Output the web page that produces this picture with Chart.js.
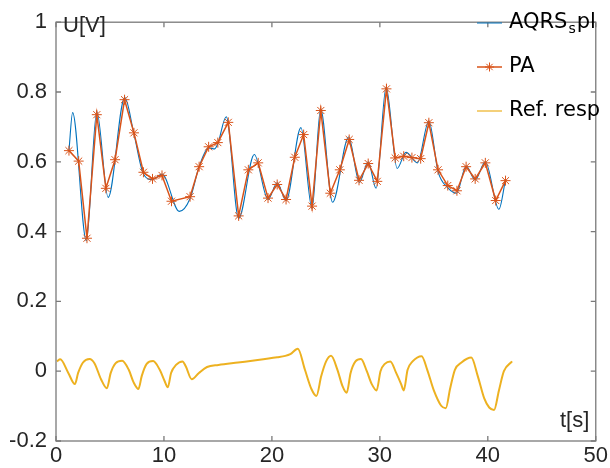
<!DOCTYPE html>
<html><head><meta charset="utf-8">
<script src="https://cdn.jsdelivr.net/npm/chart.js@4.4.1/dist/chart.umd.min.js"></script>
<style>html,body{margin:0;padding:0;background:#fff;overflow:hidden}</style>
</head><body>
<canvas id="c" width="610" height="468" style="display:block;width:610px;height:468px"></canvas>
<script>
// ---- data ----
const paTimes  = [1.2,2.1,2.87,3.78,4.62,5.47,6.35,7.22,8.1,8.94,9.82,10.7,12.42,13.26,14.14,14.99,15.96,16.92,17.82,18.73,19.64,20.49,21.31,22.12,22.94,23.72,24.53,25.41,26.29,27.16,28.07,28.92,29.76,30.61,31.42,32.21,32.97,33.78,34.54,35.39,36.29,37.14,37.99,38.83,39.77,40.73,41.64];
const paValues = [0.632,0.602,0.381,0.735,0.524,0.606,0.778,0.683,0.570,0.551,0.561,0.487,0.500,0.586,0.643,0.655,0.713,0.445,0.577,0.597,0.496,0.535,0.492,0.613,0.678,0.473,0.747,0.510,0.577,0.664,0.547,0.595,0.544,0.809,0.611,0.616,0.612,0.609,0.712,0.577,0.532,0.517,0.586,0.551,0.597,0.489,0.546];

const splTimes  = [1.2,1.54,2.81,3.78,4.83,6.37,7.22,8.1,8.94,9.82,11.42,12.42,13.26,14.14,14.7,14.99,15.77,16.92,18.37,19.64,20.49,21.31,22.69,23.72,24.51,25.62,27.11,28.1,28.92,29.65,30.58,31.6,32.42,33.48,34.54,35.39,36.29,37.1,37.99,38.83,39.77,41.03,41.64];
const splValues = [0.632,0.741,0.374,0.744,0.498,0.784,0.680,0.565,0.549,0.565,0.458,0.495,0.586,0.640,0.637,0.652,0.729,0.438,0.621,0.492,0.540,0.489,0.698,0.466,0.752,0.484,0.671,0.541,0.600,0.524,0.814,0.581,0.627,0.597,0.717,0.572,0.526,0.510,0.588,0.548,0.600,0.464,0.549];

const respTimes  = [0.09,0.39,1.14,1.75,2.05,2.5,3.11,3.56,4.17,4.71,5.07,5.53,6.13,6.74,7.19,7.64,7.94,8.4,9.0,9.61,10.06,10.36,10.66,11.12,11.72,12.02,12.57,13.24,13.99,15.05,16.86,18.68,20.49,21.24,21.7,22.4,23.06,23.66,24.12,24.57,25.02,25.48,26.07,26.53,26.93,27.29,27.74,28.25,28.79,29.25,29.7,30.06,30.46,30.97,31.51,31.97,32.21,32.57,33.03,33.87,34.39,35.0,35.68,36.11,36.5,36.95,37.56,38.47,39.07,39.67,40.13,40.58,41.03,41.49,42.25];
const respValues = [0.028,0.034,-0.005,-0.037,-0.005,0.025,0.035,0.023,-0.023,-0.049,-0.005,0.023,0.030,0.004,-0.032,-0.051,-0.014,0.021,0.029,0.004,-0.028,-0.046,-0.005,0.018,0.028,0.014,-0.023,-0.005,0.012,0.018,0.025,0.032,0.040,0.044,0.049,0.064,0.004,-0.051,-0.071,-0.014,0.028,0.044,0.004,-0.042,-0.062,-0.005,0.028,0.035,0.000,-0.037,-0.055,0.000,0.021,0.028,-0.005,-0.037,-0.055,0.004,0.028,0.043,0.004,-0.055,-0.099,-0.106,-0.051,0.004,0.025,0.039,-0.014,-0.078,-0.104,-0.111,-0.055,0.000,0.028];

const xTickValues = [0,10,20,30,40,50];
const yTickValues = [-0.2,0,0.2,0.4,0.6,0.8,1];
const seriesNames = ['AQRS','PA','Ref. resp'];
const xAxisLabel = 't[s]';
const yAxisLabel = 'U[V]';

// ---- styling ----
const C_BLUE = '#0072BD', C_ORANGE = '#D95319', C_YELLOW = '#EDB120';
const TXT = '#262626', AX = '#7a7a7a';
const TICK_FONT = {family:'"Liberation Sans", Arial, sans-serif', size:22};

const toPts = (xs, ys) => xs.map((t,i)=>({x:t, y:ys[i]}));

const decor = {
  id:'decor',
  afterDraw(chart){
    const {ctx, chartArea:a, scales:{x,y}} = chart;
    ctx.save();
    // box
    ctx.strokeStyle = AX; ctx.lineWidth = 1.3;
    ctx.strokeRect(a.left, a.top, a.right-a.left, a.bottom-a.top);
    // inward ticks on all sides
    ctx.beginPath();
    xTickValues.forEach(v=>{const p=x.getPixelForValue(v);
      ctx.moveTo(p,a.bottom); ctx.lineTo(p,a.bottom-5);
      ctx.moveTo(p,a.top); ctx.lineTo(p,a.top+5);});
    yTickValues.forEach(v=>{const p=y.getPixelForValue(v);
      ctx.moveTo(a.left,p); ctx.lineTo(a.left+5,p);
      ctx.moveTo(a.right,p); ctx.lineTo(a.right-5,p);});
    ctx.stroke();
    // axis labels inside the box
    ctx.fillStyle = TXT;
    ctx.font = '22px "Liberation Sans", Arial, sans-serif';
    ctx.textBaseline = 'middle'; ctx.textAlign = 'left';
    ctx.fillText(yAxisLabel, a.left+7, 26);
    ctx.fillText(xAxisLabel, 560, 421);
    // legend
    const lx0 = 477, lx1 = 502, tx = 509, rows = [23, 67, 111];
    const cols = [C_BLUE, C_ORANGE, C_YELLOW];
    const widths = [1, 1.5, 1.2];
    rows.forEach((ry,i)=>{
      ctx.strokeStyle = cols[i]; ctx.lineWidth = widths[i];
      ctx.beginPath(); ctx.moveTo(lx0,ry); ctx.lineTo(lx1,ry); ctx.stroke();
    });
    // asterisk marker for PA
    {
      const cx=(lx0+lx1)/2, cy=rows[1], r=4.5;
      ctx.strokeStyle=C_ORANGE; ctx.lineWidth=1; ctx.beginPath();
      for(let k=0;k<4;k++){const ang=k*Math.PI/4;
        ctx.moveTo(cx-r*Math.cos(ang),cy-r*Math.sin(ang)); ctx.lineTo(cx+r*Math.cos(ang),cy+r*Math.sin(ang));}
      ctx.stroke();
    }
    ctx.fillStyle = '#000';
    const LF = '21px "DejaVu Sans", sans-serif', SF = '14px "DejaVu Sans", sans-serif';
    ctx.font = LF;
    ctx.fillText(seriesNames[0], tx, rows[0]);
    let w = ctx.measureText(seriesNames[0]).width;
    ctx.font = SF; ctx.fillText('s', tx+w+1, rows[0]+6);
    const ws = ctx.measureText('s').width;
    ctx.font = LF; ctx.fillText('pl', tx+w+ws+2, rows[0]);
    ctx.fillText(seriesNames[1], tx, rows[1]);
    ctx.fillText(seriesNames[2], tx, rows[2]);
    ctx.restore();
  }
};

new Chart(document.getElementById('c'), {
  type:'scatter',
  data:{datasets:[
    {label:'AQRSspl', data:toPts(splTimes,splValues), showLine:true, borderColor:C_BLUE, borderWidth:1.1,
     pointRadius:0, cubicInterpolationMode:'monotone', order:2},
    {label:'PA', data:toPts(paTimes,paValues), showLine:true, borderColor:C_ORANGE, borderWidth:1.5,
     pointStyle:'star', pointRadius:5, pointBorderColor:C_ORANGE, pointBorderWidth:1, pointBackgroundColor:C_ORANGE, tension:0, order:1},
    {label:'Ref. resp', data:toPts(respTimes,respValues), showLine:true, borderColor:C_YELLOW, borderWidth:2,
     pointRadius:0, cubicInterpolationMode:'monotone', order:0}
  ]},
  options:{
    responsive:false, animation:false, devicePixelRatio:1,
    layout:{padding:{left:0, top:7, right:3, bottom:0}},
    plugins:{legend:{display:false}, tooltip:{enabled:false}},
    scales:{
      x:{type:'linear', min:0, max:50,
         grid:{display:false, drawTicks:false}, border:{display:false},
         afterBuildTicks:s=>{s.ticks = xTickValues.map(v=>({value:v}));},
         afterFit:s=>{s.height = 27;},
         ticks:{color:TXT, font:TICK_FONT, padding:2, maxRotation:0, autoSkip:false,
                callback:v=>String(v)}},
      y:{type:'linear', min:-0.2, max:1,
         grid:{display:false, drawTicks:false}, border:{display:false},
         afterBuildTicks:s=>{s.ticks = yTickValues.map(v=>({value:v}));},
         afterFit:s=>{s.width = 56;},
         ticks:{color:TXT, font:TICK_FONT, padding:9, autoSkip:false,
                callback:v=>String(Number(v.toFixed(1)))}}
    }
  },
  plugins:[decor]
});
</script>
</body></html>
